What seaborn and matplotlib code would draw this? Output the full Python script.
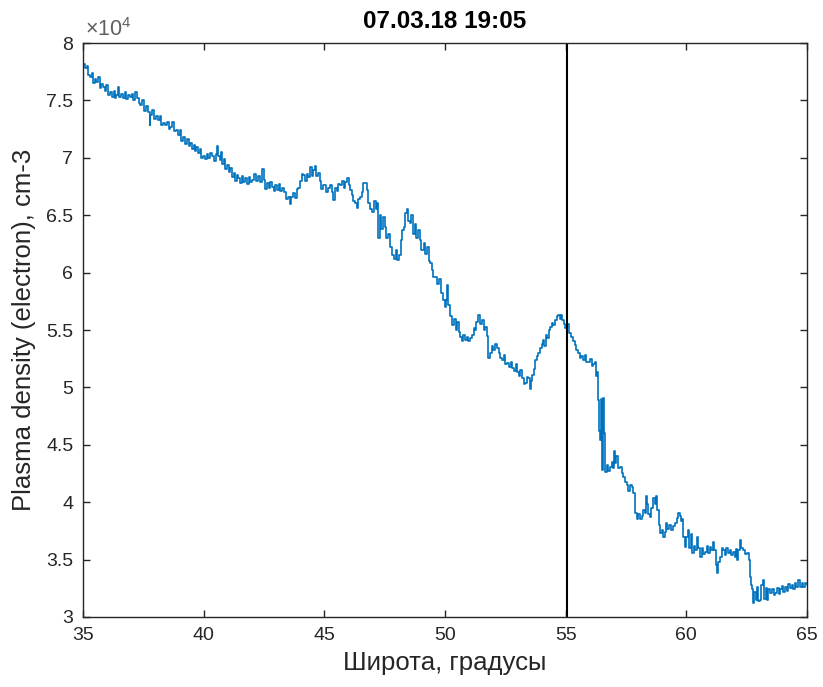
import matplotlib
matplotlib.use("Agg")
import matplotlib.pyplot as plt
import seaborn as sns
import pandas as pd
from matplotlib.ticker import FuncFormatter, MultipleLocator

# ---- data: latitude (deg) and electron density (units of 1e4 cm-3) ----
latitude = [
    35.00, 35.08, 35.15, 35.22, 35.29, 35.36, 35.42, 35.48, 35.54, 35.62,
    35.70, 35.76, 35.83, 35.90, 35.97, 36.05, 36.12, 36.20, 36.28, 36.33,
    36.37, 36.45, 36.50, 36.58, 36.66, 36.74, 36.80, 36.88, 36.95, 37.02,
    37.08, 37.15, 37.22, 37.30, 37.36, 37.44, 37.52, 37.61, 37.70, 37.76,
    37.78, 37.86, 37.94, 38.02, 38.10, 38.18, 38.25, 38.31, 38.40, 38.48,
    38.55, 38.61, 38.70, 38.76, 38.85, 38.93, 39.00, 39.07, 39.14, 39.22,
    39.30, 39.37, 39.43, 39.50, 39.58, 39.64, 39.68, 39.76, 39.84, 39.90,
    39.97, 40.05, 40.12, 40.18,
    40.26, 40.35, 40.42, 40.50, 40.56, 40.59, 40.66, 40.72, 40.76, 40.84,
    40.90, 40.97, 41.04, 41.10, 41.17, 41.24, 41.30, 41.36, 41.42, 41.50,
    41.57, 41.64, 41.71, 41.78, 41.86, 41.93, 42.00, 42.08, 42.15, 42.25,
    42.33, 42.42, 42.48, 42.55, 42.62, 42.70, 42.76, 42.83, 42.90, 42.97,
    43.04, 43.10, 43.18, 43.25, 43.33, 43.40, 43.49, 43.56, 43.62, 43.70,
    43.78, 43.86, 43.91, 44.00, 44.06, 44.12, 44.20, 44.26, 44.32, 44.40,
    44.47, 44.53, 44.60, 44.66, 44.74, 44.82, 44.88, 44.95, 45.05, 45.15,
    45.24, 45.30, 45.36, 45.44, 45.52, 45.58, 45.65, 45.72, 45.80, 45.86,
    45.94, 46.00, 46.06, 46.14, 46.20, 46.27, 46.34, 46.40, 46.48, 46.56,
    46.62, 46.69, 46.75, 46.81, 46.90, 46.98, 47.05, 47.12, 47.18, 47.22,
    47.30, 47.36, 47.43, 47.50, 47.56, 47.64, 47.72, 47.80, 47.88, 47.95,
    48.01, 48.10, 48.16, 48.22, 48.30, 48.36, 48.43, 48.48, 48.55, 48.60,
    48.67, 48.74, 48.80, 48.88, 48.95, 49.00, 49.05, 49.12, 49.18, 49.25,
    49.32, 49.38, 49.45, 49.52, 49.59,
    49.66, 49.74, 49.82, 49.90, 50.00, 50.04, 50.08, 50.12, 50.20, 50.29,
    50.36, 50.44, 50.50, 50.56, 50.62, 50.70, 50.76, 50.83, 50.90, 50.97,
    51.04, 51.12, 51.18, 51.24, 51.30, 51.37, 51.44, 51.53, 51.60, 51.66,
    51.72, 51.78, 51.86, 51.93, 51.99, 52.08, 52.15, 52.22, 52.29, 52.36,
    52.45, 52.50, 52.57, 52.65, 52.72, 52.78, 52.86, 52.92, 52.98, 53.06,
    53.12, 53.19, 53.26, 53.32, 53.38, 53.44, 53.50, 53.56, 53.61, 53.68,
    53.73, 53.80, 53.85, 53.92, 54.00, 54.06, 54.12, 54.18, 54.23, 54.30,
    54.35, 54.42, 54.48, 54.56, 54.62, 54.68, 54.75, 54.80, 54.85, 54.92,
    54.97, 55.05, 55.14,
    55.22, 55.30, 55.38, 55.44, 55.51, 55.58, 55.65, 55.72, 55.80, 55.86,
    55.93, 56.00, 56.07, 56.13, 56.20, 56.25, 56.30, 56.34, 56.38, 56.42,
    56.46, 56.48, 56.51, 56.55, 56.58, 56.63, 56.70, 56.76, 56.84, 56.90,
    56.96, 57.00, 57.04, 57.10, 57.16, 57.25, 57.32, 57.38, 57.46, 57.54,
    57.60, 57.66, 57.75, 57.80, 57.87, 57.94, 58.00, 58.08, 58.15, 58.22,
    58.29, 58.34, 58.37, 58.42, 58.49, 58.55, 58.62, 58.68, 58.74, 58.79,
    58.86, 58.91, 58.97, 59.03, 59.10, 59.16, 59.20, 59.28, 59.36, 59.44,
    59.53, 59.60, 59.66, 59.72, 59.78, 59.82, 59.88, 59.95,
    60.00, 60.07, 60.12, 60.18, 60.24, 60.30, 60.36, 60.44, 60.50, 60.57,
    60.64, 60.70, 60.77, 60.84, 60.90, 60.98, 61.04, 61.11, 61.16, 61.22,
    61.27, 61.33, 61.40, 61.46, 61.52, 61.60, 61.66, 61.73, 61.80, 61.86,
    61.94, 62.00, 62.06, 62.10, 62.16, 62.22, 62.28, 62.35, 62.42, 62.51,
    62.58, 62.64, 62.68, 62.72, 62.76, 62.82, 62.88, 62.93, 62.98, 63.05,
    63.10, 63.18, 63.22, 63.28, 63.34, 63.40, 63.47, 63.55, 63.62, 63.68,
    63.75, 63.82, 63.88, 63.95, 64.02, 64.09, 64.16, 64.22, 64.30, 64.36,
    64.42, 64.50, 64.56, 64.62, 64.71, 64.78, 64.85, 64.92, 65.00,
]
density_e4 = [
    7.82, 7.78, 7.80, 7.72, 7.70, 7.74, 7.65, 7.69, 7.66, 7.70,
    7.61, 7.64, 7.62, 7.58, 7.63, 7.55, 7.57, 7.53, 7.58, 7.52,
    7.55, 7.62, 7.53, 7.56, 7.52, 7.57, 7.51, 7.55, 7.53, 7.56,
    7.50, 7.57, 7.52, 7.48, 7.46, 7.50, 7.41, 7.45, 7.40, 7.29,
    7.37, 7.42, 7.34, 7.36, 7.33, 7.36, 7.29, 7.30, 7.29, 7.31,
    7.25, 7.27, 7.31, 7.23, 7.24, 7.20, 7.24, 7.15, 7.18, 7.12,
    7.16, 7.10, 7.13, 7.08, 7.11, 7.06, 7.09, 7.04, 7.08, 7.00,
    7.02, 6.99, 7.03, 7.00,
    7.04, 7.02, 6.97, 7.03, 7.10, 7.02, 6.98, 7.05, 6.95, 6.99,
    6.90, 6.94, 6.88, 6.91, 6.83, 6.87, 6.80, 6.85, 6.82, 6.78,
    6.84, 6.79, 6.82, 6.77, 6.83, 6.79, 6.81, 6.86, 6.80, 6.84,
    6.79, 6.90, 6.81, 6.73, 6.78, 6.74, 6.79, 6.75, 6.71, 6.76,
    6.72, 6.77, 6.71, 6.74, 6.70, 6.64, 6.66, 6.60, 6.66, 6.69,
    6.65, 6.73, 6.74, 6.80, 6.86, 6.85, 6.80, 6.86, 6.83, 6.92,
    6.84, 6.89, 6.93, 6.84, 6.87, 6.80, 6.73, 6.76, 6.70, 6.74,
    6.76, 6.70, 6.63, 6.74, 6.71, 6.77, 6.76, 6.80, 6.74, 6.79,
    6.82, 6.76, 6.72, 6.68, 6.62, 6.61, 6.56, 6.64, 6.66, 6.70,
    6.78, 6.78, 6.72, 6.61, 6.55, 6.53, 6.62, 6.55, 6.61, 6.30,
    6.50, 6.38, 6.48, 6.40, 6.30, 6.34, 6.22, 6.15, 6.12, 6.20,
    6.11, 6.15, 6.28, 6.37, 6.40, 6.52, 6.55, 6.45, 6.43, 6.50,
    6.34, 6.42, 6.30, 6.37, 6.28, 6.20, 6.20, 6.26, 6.16, 6.22,
    6.10, 6.08, 6.02, 5.96, 5.96,
    5.90, 5.94, 5.82, 5.76, 5.70, 5.76, 5.89, 5.72, 5.62, 5.54,
    5.60, 5.50, 5.57, 5.48, 5.44, 5.40, 5.46, 5.41, 5.44, 5.40,
    5.43, 5.46, 5.52, 5.50, 5.57, 5.63, 5.55, 5.59, 5.50, 5.53,
    5.45, 5.26, 5.30, 5.36, 5.33, 5.38, 5.34, 5.30, 5.26, 5.24,
    5.28, 5.20, 5.21, 5.18, 5.22, 5.17, 5.14, 5.20, 5.13, 5.10,
    5.15, 5.08, 5.03, 5.04, 5.09, 5.08, 4.99, 5.06, 5.11, 5.16,
    5.24, 5.27, 5.30, 5.34, 5.38, 5.41, 5.36, 5.46, 5.43, 5.50,
    5.53, 5.56, 5.54, 5.59, 5.62, 5.63, 5.60, 5.63, 5.59, 5.55,
    5.52, 5.55, 5.47,
    5.44, 5.40, 5.37, 5.33, 5.30, 5.26, 5.27, 5.24, 5.28, 5.22,
    5.22, 5.25, 5.19, 5.20, 5.22, 5.10, 5.13, 4.89, 4.62, 4.54,
    4.80, 4.90, 4.28, 4.91, 4.60, 4.26, 4.32, 4.27, 4.31, 4.35,
    4.30, 4.45, 4.34, 4.40, 4.30, 4.31, 4.25, 4.22, 4.18, 4.15,
    4.10, 4.15, 4.13, 4.08, 3.91, 3.85, 3.90, 3.85, 3.88, 3.93,
    3.91, 4.05, 3.98, 3.90, 3.87, 3.95, 4.04, 3.98, 4.05, 3.93,
    3.80, 3.73, 3.76, 3.70, 3.74, 3.82, 3.77, 3.80, 3.76, 3.79,
    3.82, 3.86, 3.91, 3.88, 3.84, 3.85, 3.70, 3.61,
    3.70, 3.76, 3.60, 3.72, 3.56, 3.62, 3.58, 3.70, 3.60, 3.52,
    3.60, 3.55, 3.57, 3.62, 3.56, 3.61, 3.58, 3.65, 3.58, 3.45,
    3.38, 3.48, 3.52, 3.60, 3.58, 3.54, 3.60, 3.56, 3.58, 3.54,
    3.57, 3.52, 3.59, 3.50, 3.58, 3.67, 3.60, 3.58, 3.55, 3.56,
    3.50, 3.35, 3.28, 3.24, 3.12, 3.22, 3.15, 3.26, 3.14, 3.15,
    3.28, 3.32, 3.16, 3.25, 3.15, 3.24, 3.21, 3.24, 3.19, 3.21,
    3.25, 3.20, 3.24, 3.27, 3.22, 3.26, 3.23, 3.29, 3.25, 3.28,
    3.24, 3.30, 3.26, 3.32, 3.26, 3.30, 3.26, 3.30, 3.28,
]
marker_lat = 55.05
title_text = "07.03.18 19:05"
x_label = "Широта, градусы"
y_label = "Plasma density (electron), cm-3"
x_ticks = [35, 40, 45, 50, 55, 60, 65]

df = pd.DataFrame({"lat": latitude, "dens": [v * 1e4 for v in density_e4]})

sns.set_style("ticks")
plt.rcParams["font.family"] = ["Liberation Sans", "DejaVu Sans"]
plt.rcParams["mathtext.fontset"] = "custom"
plt.rcParams["mathtext.rm"] = "Liberation Sans"
plt.rcParams["mathtext.it"] = "Liberation Sans"

fig = plt.figure(figsize=(8.23, 6.87), dpi=100)
ax = fig.add_axes([0.1009, 0.1019, 0.8797, 0.8355])

sns.lineplot(data=df, x="lat", y="dens", ax=ax, color="#0072BD",
             linewidth=1.2, estimator=None, sort=False, drawstyle="steps-post")
ax.axvline(marker_lat, color="black", linewidth=1.5)

ax.set_xlim(35, 65)
ax.set_ylim(3e4, 8e4)
ax.set_xticks(x_ticks)
ax.yaxis.set_major_locator(MultipleLocator(5000))
ax.yaxis.set_major_formatter(FuncFormatter(lambda v, p: f"{v / 1e4:g}"))

txt = "#262626"
ax.tick_params(direction="in", length=5, width=1, top=True, right=True,
               labelsize=14, colors=txt, pad=7)
for s in ax.spines.values():
    s.set_color(txt)
    s.set_linewidth(1.0)
    s.set_visible(True)

ax.text(0.003, 1.003, r"$\times10^{4}$", transform=ax.transAxes,
        ha="left", va="bottom", fontsize=15.5, color="#606060")

ax.set_xlabel(x_label, fontsize=18.5, color=txt, labelpad=5)
ax.set_ylabel(y_label, fontsize=18.5, color=txt, labelpad=7)
ax.set_title(title_text, fontsize=17.5, fontweight="bold", color="black", pad=11)

fig.savefig("out.png", dpi=100)
